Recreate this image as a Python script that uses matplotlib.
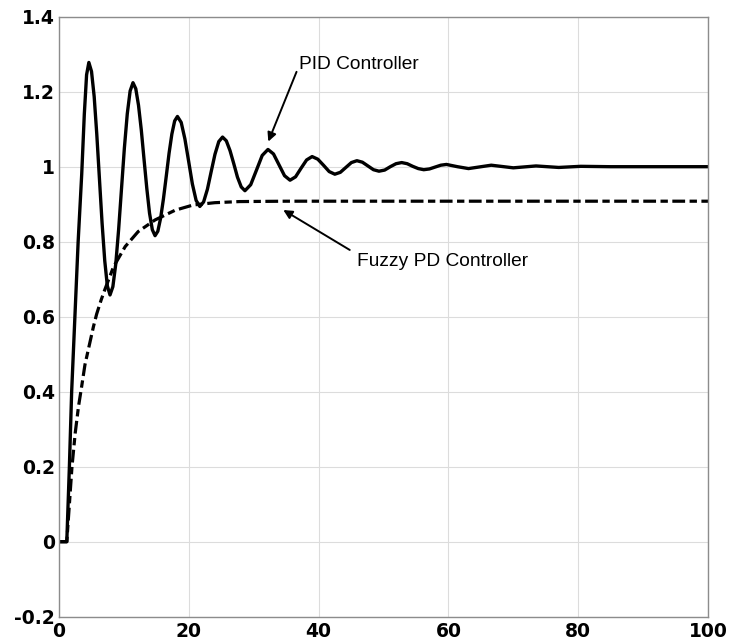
import numpy as np
import matplotlib as mpl
import matplotlib.pyplot as plt

mpl.rc('font', family='Liberation Sans', size=13.8)

# PID controller response
pid_t = [0, 1.2, 1.6, 1.95, 2.45, 2.95, 3.5, 3.9, 4.25, 4.6,
         5.01, 5.42, 5.82, 6.23, 6.64, 7.05, 7.45, 7.86,
         8.30, 8.75, 9.19, 9.63, 10.07, 10.52, 10.96, 11.4,
         11.83, 12.25, 12.68, 13.1, 13.53, 13.95, 14.38, 14.8,
         15.23, 15.66, 16.09, 16.53, 16.96, 17.39, 17.82, 18.25,
         18.83, 19.4, 19.98, 20.55, 21.13, 21.7,
         22.28, 22.87, 23.45, 24.03, 24.62, 25.2,
         25.78, 26.35, 26.93, 27.5, 28.08, 28.65,
         29.54, 30.43, 31.31, 32.2,
         33.05, 33.9, 34.75, 35.6,
         36.45, 37.3, 38.15, 39.0,
         39.88, 40.75, 41.63, 42.5,
         43.35, 44.2, 45.05, 45.9,
         46.75, 47.6, 48.45, 49.3,
         50.18, 51.05, 51.93, 52.8,
         53.65, 54.5, 55.35, 56.2,
         57.08, 57.95, 58.83, 59.7,
         61.4, 63.1, 64.85, 66.6, 68.3, 70.0, 71.75, 73.5,
         75.25, 77.0, 78.7, 80.4, 85.0, 100.0]
pid_y = [0, 0, 0.2, 0.4, 0.6, 0.8, 0.98, 1.14, 1.245, 1.278,
         1.254, 1.187, 1.087, 0.968, 0.849, 0.749, 0.682, 0.658,
         0.680, 0.741, 0.833, 0.941, 1.049, 1.141, 1.202, 1.224,
         1.208, 1.164, 1.098, 1.020, 0.942, 0.876, 0.832, 0.816,
         0.828, 0.863, 0.914, 0.975, 1.036, 1.087, 1.122, 1.134,
         1.118, 1.074, 1.014, 0.954, 0.910, 0.894,
         0.906, 0.940, 0.987, 1.033, 1.067, 1.079,
         1.069, 1.043, 1.008, 0.972, 0.946, 0.936,
         0.952, 0.991, 1.030, 1.046,
         1.034, 1.005, 0.976, 0.964,
         0.973, 0.996, 1.018, 1.027,
         1.020, 1.004, 0.987, 0.980,
         0.985, 0.998, 1.011, 1.016,
         1.012, 1.002, 0.992, 0.988,
         0.991, 1.000, 1.008, 1.011,
         1.008, 1.001, 0.995, 0.992,
         0.994, 0.999, 1.004, 1.006,
         1.000, 0.995, 0.9995, 1.004, 1.0005, 0.997, 0.9995, 1.002,
         1.000, 0.998, 0.9995, 1.001, 1.000, 1.000]

# Fuzzy PD controller response
fuzzy_t = [0, 1.2, 1.6, 2.0, 2.5, 3.0, 3.5, 4.0, 4.5, 5.3, 5.8, 6.5, 7.1,
           8.4, 10.2, 12.2, 14.8, 17.9, 20.7, 24.0, 27.8, 35.0, 100.0]
fuzzy_y = [0, 0, 0.1, 0.2, 0.29, 0.36, 0.415, 0.472, 0.511, 0.573, 0.607, 0.645, 0.674,
           0.733, 0.787, 0.827, 0.858, 0.884, 0.898, 0.904, 0.907, 0.908, 0.908]

xticks = [0, 20, 40, 60, 80, 100]
yticks = [-0.2, 0, 0.2, 0.4, 0.6, 0.8, 1, 1.2, 1.4]

fig = plt.figure(figsize=(7.31, 6.41), dpi=100)
ax = fig.add_axes([59 / 731, 1 - 616.7 / 641, 649 / 731, 600 / 641])

ax.plot(pid_t, pid_y, color='black', linewidth=2.4, solid_joinstyle='round')
ax.plot(fuzzy_t, fuzzy_y, color='black', linewidth=2.3, dashes=(4.0, 1.4, 2.3, 1.4))

ax.set_xlim(0, 100)
ax.set_ylim(-0.2, 1.4)
ax.set_xticks(xticks)
ax.set_yticks(yticks)
tick_font = dict(family='DejaVu Sans', fontweight='bold', fontsize=13.5)
ax.set_xticklabels([f'{v:g}' for v in xticks], **tick_font)
ax.set_yticklabels([f'{v:g}' for v in yticks], **tick_font)
ax.tick_params(length=0, pad=3)
ax.tick_params(axis='x', pad=3.5)
ax.grid(color='#dcdcdc', linewidth=0.8)
for s in ax.spines.values():
    s.set_color('#8c8c8c')
    s.set_linewidth(1.0)

arrow = dict(arrowstyle='-|>', color='black', lw=1.4, mutation_scale=13, shrinkA=0, shrinkB=0)
ax.annotate('', xy=(32.25, 1.067), xytext=(36.6, 1.253), arrowprops=arrow)
ax.text(37.0, 1.26, 'PID Controller', va='baseline')
ax.annotate('', xy=(34.56, 0.8845), xytext=(44.8, 0.778), arrowprops=arrow)
ax.text(45.9, 0.7365, 'Fuzzy PD Controller', va='baseline')

fig.savefig('out.png', dpi=100)
